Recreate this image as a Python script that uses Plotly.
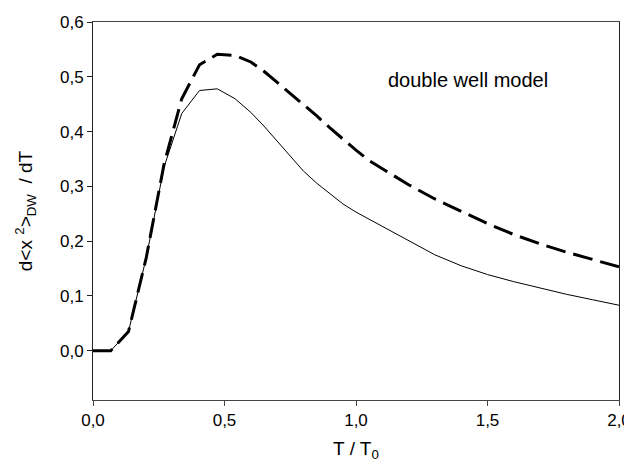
import plotly.graph_objects as go

# Data
t_solid = [0.0, 0.0675, 0.135, 0.2025, 0.27, 0.3375, 0.405, 0.4725, 0.54, 0.6, 0.65, 0.7, 0.75,
           0.8, 0.85, 0.9, 0.95, 1.0, 1.05, 1.1, 1.15, 1.2, 1.3, 1.4, 1.5, 1.6, 1.7, 1.8, 1.9, 2.0]
y_solid = [0.0, 0.0, 0.035, 0.17, 0.335, 0.433, 0.475, 0.478, 0.46, 0.435, 0.41, 0.383, 0.355,
           0.328, 0.306, 0.287, 0.268, 0.253, 0.24, 0.227, 0.214, 0.2, 0.175, 0.155, 0.139,
           0.126, 0.114, 0.103, 0.093, 0.083]

t_dash = [0.0, 0.0675, 0.135, 0.2025, 0.27, 0.3375, 0.405, 0.4725, 0.54, 0.6, 0.65, 0.7, 0.75,
          0.8, 0.85, 0.9, 0.95, 1.0, 1.05, 1.1, 1.2, 1.3, 1.4, 1.5, 1.6, 1.7, 1.8, 1.9, 2.0]
y_dash = [0.0, 0.0, 0.035, 0.17, 0.34, 0.46, 0.522, 0.541, 0.539, 0.527, 0.51, 0.49, 0.47,
          0.449, 0.429, 0.407, 0.386, 0.366, 0.347, 0.332, 0.303, 0.277, 0.254, 0.232, 0.212,
          0.195, 0.18, 0.166, 0.153]

x_tickvals = [0.0, 0.5, 1.0, 1.5, 2.0]
x_ticktext = ["0,0", "0,5", "1,0", "1,5", "2,0"]
y_tickvals = [0.0, 0.1, 0.2, 0.3, 0.4, 0.5, 0.6]
y_ticktext = ["0,0", "0,1", "0,2", "0,3", "0,4", "0,5", "0,6"]

annotation_text = "double well model"

FONT = "Liberation Sans, Arial, sans-serif"

fig = go.Figure()
fig.add_trace(go.Scatter(x=t_solid, y=y_solid, mode="lines",
                         line=dict(color="black", width=1), showlegend=False))
fig.add_trace(go.Scatter(x=t_dash, y=y_dash, mode="lines",
                         line=dict(color="black", width=3, dash="20px,8px"), showlegend=False))

fig.add_annotation(x=1.115, y=0.494, xref="x", yref="y", text=annotation_text,
                   showarrow=False, xanchor="left", yanchor="middle",
                   font=dict(family=FONT, size=20, color="black"))

# page body adds an 8px offset, so the figure is sized to the remaining window area
fig.update_layout(
    width=624, height=459,
    margin=dict(l=85, r=13, t=14, b=67),
    paper_bgcolor="white", plot_bgcolor="white",
    font=dict(family=FONT, color="black"),
    xaxis=dict(range=[0, 2.0], tickvals=x_tickvals, ticktext=x_ticktext,
               showgrid=False, zeroline=False, showline=True, linecolor="#444",
               linewidth=1, mirror=True, ticks="outside", ticklen=5, tickcolor="#444",
               tickfont=dict(size=17, family=FONT), automargin=False,
               title=dict(text="T / T<sub>0</sub>", font=dict(size=19, family=FONT), standoff=12)),
    yaxis=dict(range=[-0.09, 0.6], tickvals=y_tickvals, ticktext=y_ticktext,
               showgrid=False, zeroline=False, showline=True, linecolor="#222",
               linewidth=1, mirror=True, ticks="outside", ticklen=5, tickcolor="#222",
               tickfont=dict(size=17, family=FONT), automargin=False,
               title=dict(text="d<x <sup>2</sup>><sub>DW</sub>  / dT",
                          font=dict(size=19, family=FONT), standoff=22)),
)

fig.write_html("out.html")
